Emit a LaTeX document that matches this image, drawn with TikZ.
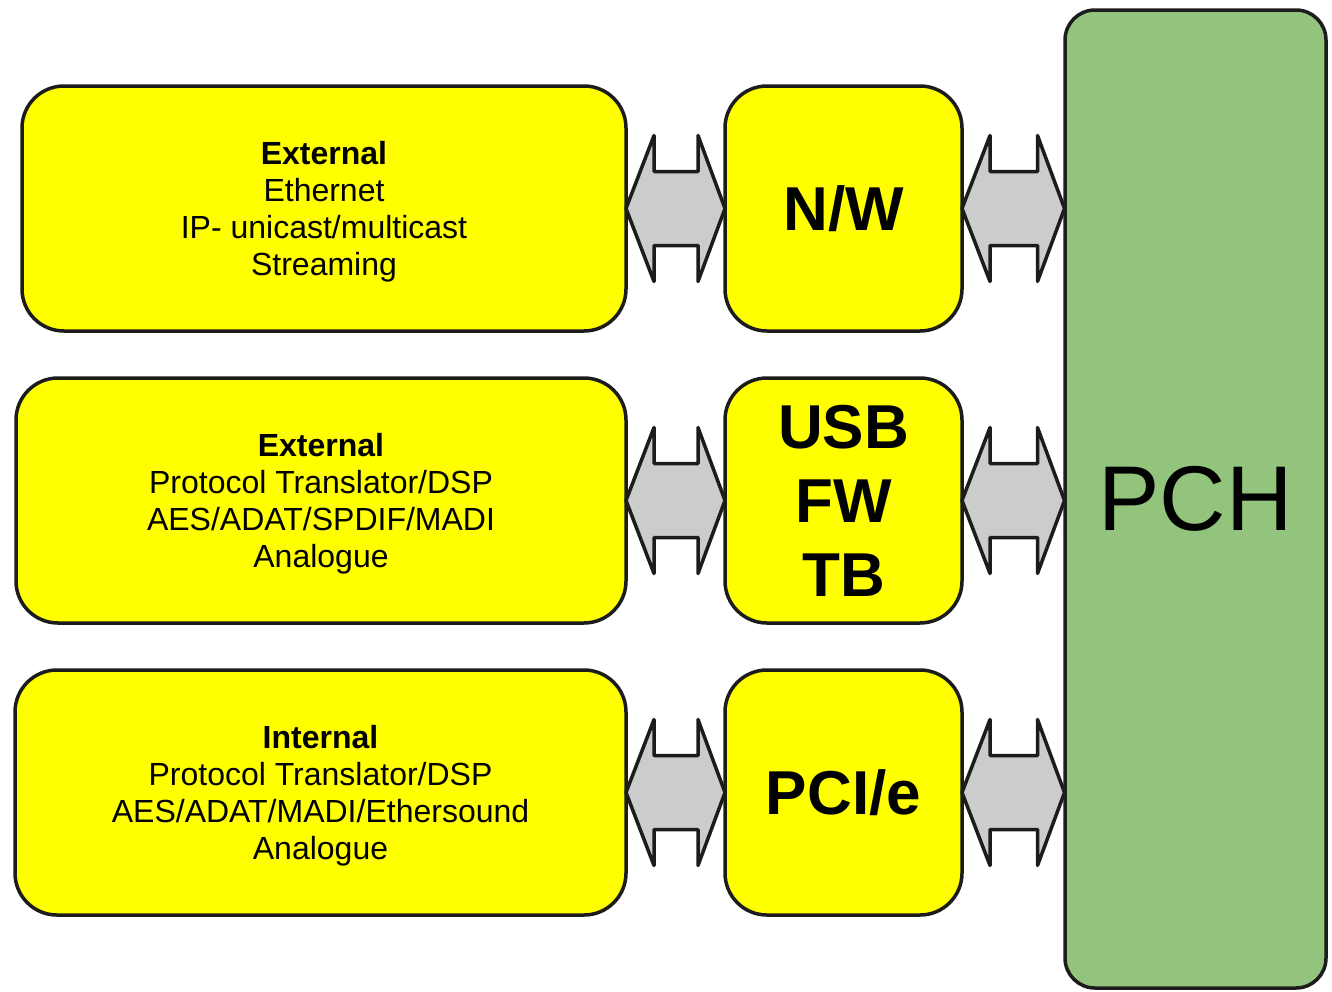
\documentclass[tikz,border=0pt]{standalone}
\usepackage{fontspec}
\setmainfont{Liberation Sans}
\usetikzlibrary{calc}
\definecolor{boxyellow}{HTML}{FFFF00}
\definecolor{pchgreen}{HTML}{93C47D}
\definecolor{arrowgray}{HTML}{CCCCCC}
\definecolor{edge}{HTML}{1C1C1C}
\tikzset{
  srcbox/.style={draw=edge, fill=boxyellow, line width=3.5pt, rounded corners=42pt,
    inner sep=0pt, outer sep=0pt, minimum height=245pt},
  srctext/.style={inner sep=0pt, outer sep=0pt, align=center,
    font=\fontsize{32}{37}\selectfont},
  busbox/.style={draw=edge, fill=boxyellow, line width=3.5pt, rounded corners=42pt,
    inner sep=0pt, outer sep=0pt, align=center, minimum height=245pt, minimum width=237pt,
    font=\fontsize{62}{74}\selectfont\bfseries},
  pchbox/.style={draw=edge, fill=pchgreen, line width=3.5pt, rounded corners=30pt,
    inner sep=0pt, outer sep=0pt, minimum width=261pt, minimum height=978pt,
    font=\fontsize{92}{100}\selectfont},
  dblarrow/.style={draw=edge, fill=arrowgray, line width=3.5pt, line join=round}
}
\newcommand{\twoway}[2]{%
  \draw[dblarrow] (#1.east) -- ($(#1.east)+(28,-73)$) -- ($(#1.east)+(28,-37)$)
    -- ($(#2.west)+(-27,-37)$) -- ($(#2.west)+(-27,-73)$) -- (#2.west)
    -- ($(#2.west)+(-27,73)$) -- ($(#2.west)+(-27,37)$)
    -- ($(#1.east)+(28,37)$) -- ($(#1.east)+(28,73)$) -- cycle;}
\begin{document}
\begin{tikzpicture}[x=1pt,y=-1pt]
\useasboundingbox (0,0) rectangle (1332,991);
\node[srcbox, minimum width=604pt] (a1) at (324,208.5) {};
\node[srcbox, minimum width=610pt] (a2) at (321,500.5) {};
\node[srcbox, minimum width=611pt] (a3) at (320.5,792.5) {};
\node[srctext] (t1) at ($(a1.center)+(0,3)$) {\textbf{External}\\Ethernet\\IP- unicast/multicast\\Streaming};
\node[srctext] (t2) at ($(a2.center)+(0,3)$) {\textbf{External}\\Protocol Translator/DSP\\AES/ADAT/SPDIF/MADI\\Analogue};
\node[srctext] (t3) at ($(a3.center)+(0,3)$) {\textbf{Internal}\\Protocol Translator/DSP\\AES/ADAT/MADI/Ethersound\\Analogue};
\node[busbox] (b1) at (843.5,208.5) {N/W};
\node[busbox] (b2) at (843.5,500.5) {USB\\FW\\TB};
\node[busbox] (b3) at (843.5,792.5) {PCI/e};
\node[pchbox] (pch) at (1195.5,499) {PCH};
\node[inner sep=0pt, outer sep=0pt] (q1) at (1065,208.5) {};
\node[inner sep=0pt, outer sep=0pt] (q2) at (1065,500.5) {};
\node[inner sep=0pt, outer sep=0pt] (q3) at (1065,792.5) {};
\twoway{a1}{b1}
\twoway{a2}{b2}
\twoway{a3}{b3}
\twoway{b1}{q1}
\twoway{b2}{q2}
\twoway{b3}{q3}
\end{tikzpicture}
\end{document}
